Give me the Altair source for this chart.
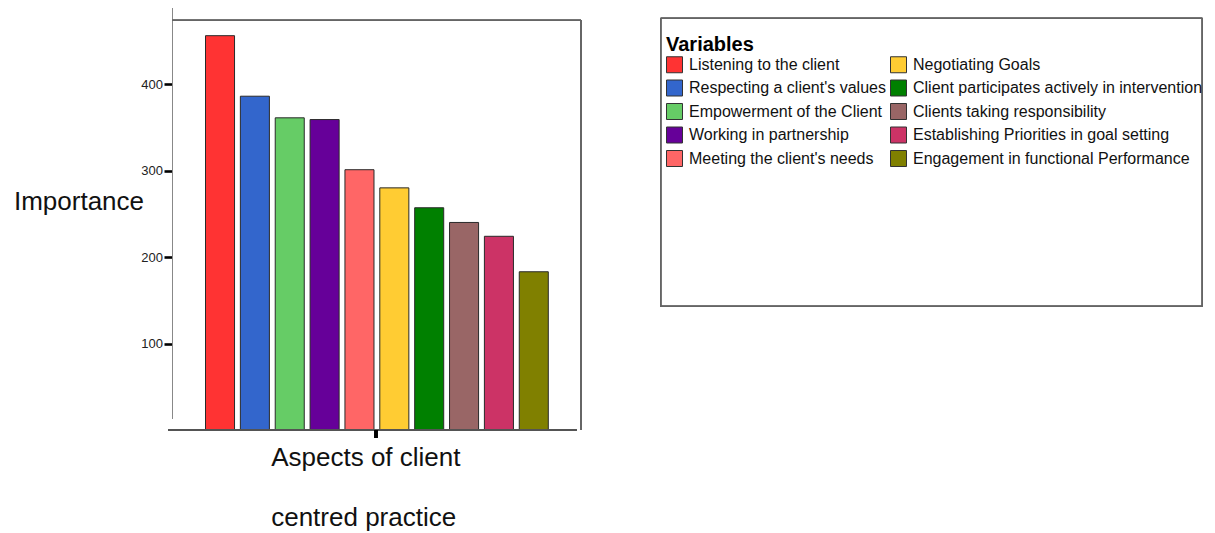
import altair as alt
import pandas as pd

# Aspects of client centred practice, ranked by importance score
variables = [
    "Listening to the client",
    "Respecting a client's values",
    "Empowerment of the Client",
    "Working in partnership",
    "Meeting the client's needs",
    "Negotiating Goals",
    "Client participates actively in intervention",
    "Clients taking responsibility",
    "Establishing Priorities in goal setting",
    "Engagement in functional Performance",
]
importance = [456, 386, 361, 359, 301, 280, 257, 240, 224, 183]
colors = [
    "#FF3333", "#3366CC", "#66CC66", "#660099", "#FF6666",
    "#FFCC33", "#008000", "#996666", "#CC3366", "#808000",
]
y_ticks = [100, 200, 300, 400]

FONT = "Liberation Sans"
W, H = 413, 422

df = pd.DataFrame({"Variable": variables, "Importance": importance})

bars = alt.Chart(df).mark_bar(stroke="#2a2a2a", strokeWidth=1, opacity=1).encode(
    x=alt.X(
        "Variable:N",
        sort=variables,
        scale=alt.Scale(range=[37.5, 380.3], paddingInner=0.167, paddingOuter=0),
        axis=alt.Axis(
            labels=False, ticks=False, domain=False,
            title=["Aspects of client", "centred practice"],
            titleFont=FONT, titleFontSize=26, titleFontWeight="normal",
            titleColor="#111", titleLineHeight=60,
            titleAlign="left", titleAnchor="start",
            titleX=102.7, titleY=35, titleBaseline="alphabetic",
        ),
    ),
    y=alt.Y(
        "Importance:Q",
        scale=alt.Scale(domain=[0, 488], nice=False, zero=True),
        axis=alt.Axis(
            values=y_ticks, grid=False, domain=False, offset=-4.5,
            tickColor="#000", tickWidth=2.6, tickSize=8.5,
            labelFont=FONT, labelFontSize=13, labelColor="#222", labelPadding=1.5,
            title="Importance", titleAngle=0, titleFont=FONT, titleFontSize=26,
            titleFontWeight="normal", titleColor="#111",
            titleAlign="center", titleX=-94, titleY=201.3, titleBaseline="alphabetic",
        ),
    ),
    color=alt.Color(
        "Variable:N",
        scale=alt.Scale(domain=variables, range=colors),
        legend=alt.Legend(
            title="Variables", orient="none", legendX=498, legendY=27,
            columns=2, columnPadding=2, rowPadding=2.5, padding=0,
            symbolType="square", symbolSize=256, symbolStrokeColor="#333",
            symbolStrokeWidth=1, symbolOpacity=1,
            labelFont=FONT, labelFontSize=16, labelColor="#111", labelOffset=6,
            labelLimit=500,
            titleFont=FONT, titleFontSize=20, titleFontWeight="bold",
            titleColor="#000", titlePadding=1,
        ),
    ),
)

def rule(x, x2, y, y2, color, width):
    return alt.Chart(df).mark_rule(color=color, strokeWidth=width).encode(
        x=alt.value(x), x2=alt.value(x2), y=alt.value(y), y2=alt.value(y2)
    )

frame = [
    rule(4.5, 4.5, 0, 410.3, "#888", 1),       # left axis line
    rule(4.5, 413, 12.3, 12.3, "#666", 1),     # top border
    rule(413, 413, 12.3, 422, "#666", 1),      # right border
    rule(0.3, 408.7, 422, 422, "#555", 1),     # category axis line
    rule(208, 208, 422, 430, "#000", 2.6),     # category tick
]

legend_box = alt.Chart(df).mark_rect(
    fill="white", fillOpacity=0, stroke="#666", strokeWidth=1
).encode(
    x=alt.value(492.7), x2=alt.value(1034.3), y=alt.value(10.3), y2=alt.value(298.3)
)

chart = alt.layer(legend_box, bars, *frame).properties(
    width=W, height=H,
    background="white",
    autosize=alt.AutoSizeParams(type="none"),
    padding={"left": 168, "top": 8, "right": 1215 - 168 - W, "bottom": 533 - 8 - H},
).configure_view(stroke=None)

chart.save("out.html", embed_options={"renderer": "svg", "actions": False})
